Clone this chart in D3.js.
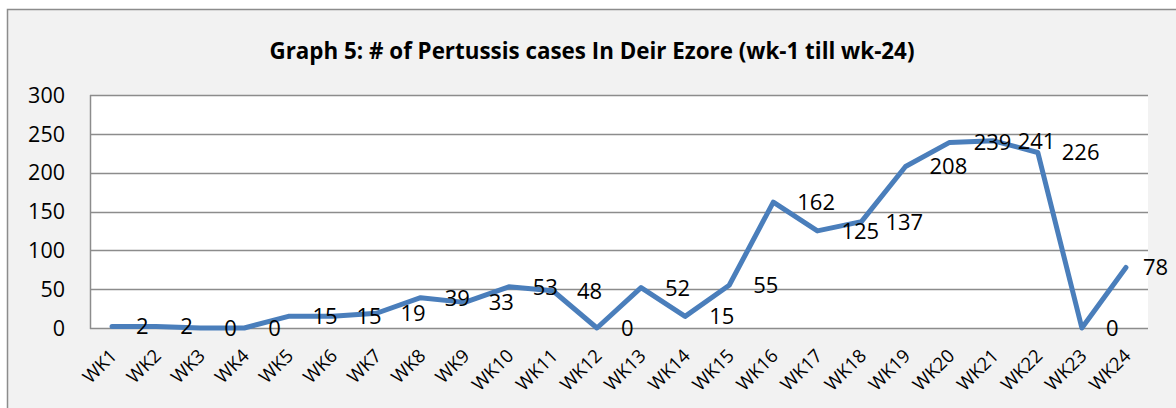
<!DOCTYPE html>
<html>
<head>
<meta charset="utf-8">
<script src="https://cdn.jsdelivr.net/npm/d3@7"></script>
<style>
  html, body { margin: 0; padding: 0; background: #fff; }
  svg { display: block; }
  text { font-family: "Open Sans", "Liberation Sans", sans-serif; fill: #000; }
</style>
</head>
<body>
<svg id="chart" width="1176" height="408"></svg>
<script>
'use strict';

// weeks and counts
var weeks = ["WK1", "WK2", "WK3", "WK4", "WK5", "WK6", "WK7", "WK8", "WK9", "WK10", "WK11", "WK12",
  "WK13", "WK14", "WK15", "WK16", "WK17", "WK18", "WK19", "WK20", "WK21", "WK22", "WK23", "WK24"];
var cases = [2, 2, 0, 0, 15, 15, 19, 39, 33, 53, 48, 0, 52, 15, 55, 162, 125, 137, 208, 239, 241, 226, 0, 78];
var yTicks = [0, 50, 100, 150, 200, 250, 300];
var title = "Graph 5: # of Pertussis cases In Deir Ezore (wk-1 till wk-24)";

var svg = d3.select("#chart");
var plot = {left: 90, top: 95, right: 1148, bottom: 328};

// chart area (runs off the right and bottom of the picture)
svg.append("rect")
  .attr("x", 7.5).attr("y", 9.5)
  .attr("width", 1200).attr("height", 420)
  .attr("fill", "#f2f2f2")
  .attr("stroke", "#8c8c8c").attr("stroke-width", 1.5);

// plot area
svg.append("rect")
  .attr("x", plot.left).attr("y", plot.top)
  .attr("width", plot.right - plot.left).attr("height", plot.bottom - plot.top)
  .attr("fill", "#fff");

var x = d3.scaleBand().domain(weeks).range([plot.left, plot.right]);
var y = d3.scaleLinear().domain([0, 300]).range([plot.bottom, plot.top]);
function cx(d) { return x(d) + x.bandwidth() / 2; }

// title, squeezed to the width of the original bold Calibri line
var t = svg.append("text")
  .attr("x", 592).attr("y", 59)
  .attr("text-anchor", "middle")
  .style("font-weight", "bold")
  .style("font-size", "22.5px")
  .text(title);
t.attr("textLength", 645).attr("lengthAdjust", "spacingAndGlyphs");

// gridlines
svg.append("g")
  .selectAll("line")
  .data(yTicks)
  .enter().append("line")
  .attr("x1", plot.left).attr("x2", plot.right)
  .attr("y1", function (d) { return Math.round(y(d)) + 0.5; })
  .attr("y2", function (d) { return Math.round(y(d)) + 0.5; })
  .attr("stroke", "#8c8c8c").attr("stroke-width", 1.5);

// y axis line
svg.append("line")
  .attr("x1", plot.left + 0.5).attr("x2", plot.left + 0.5)
  .attr("y1", plot.top).attr("y2", plot.bottom + 1)
  .attr("stroke", "#8c8c8c").attr("stroke-width", 1.5);

// y tick labels
svg.append("g")
  .selectAll("text")
  .data(yTicks)
  .enter().append("text")
  .attr("x", 65)
  .attr("y", function (d) { return y(d); })
  .attr("dy", "0.36em")
  .attr("text-anchor", "end")
  .style("font-size", "21.5px")
  .text(function (d) { return d; });

// x tick labels, rotated
svg.append("g")
  .selectAll("text")
  .data(weeks)
  .enter().append("text")
  .attr("transform", function (d) { return "translate(" + (cx(d) + 6) + "," + 357 + ") rotate(-45)"; })
  .attr("text-anchor", "end")
  .style("font-size", "18.5px")
  .text(function (d) { return d; });

// the line
var line = d3.line()
  .x(function (d, i) { return cx(weeks[i]); })
  .y(function (d) { return y(d); });

svg.append("path")
  .datum(cases)
  .attr("d", line)
  .attr("fill", "none")
  .attr("stroke", "#4a7ebb")
  .attr("stroke-width", 5)
  .attr("stroke-linejoin", "round")
  .attr("stroke-linecap", "round");

// data labels, to the right of each point
svg.append("g")
  .selectAll("text")
  .data(cases)
  .enter().append("text")
  .attr("x", function (d, i) {
    var px = cx(weeks[i]) + 24;
    return i == cases.length - 1 ? px - 7 : px; // last one pushed back inside the chart
  })
  .attr("y", function (d) { return y(d); })
  .attr("dy", "0.36em")
  .style("font-size", "22px")
  .text(function (d) { return d; });
</script>
</body>
</html>
